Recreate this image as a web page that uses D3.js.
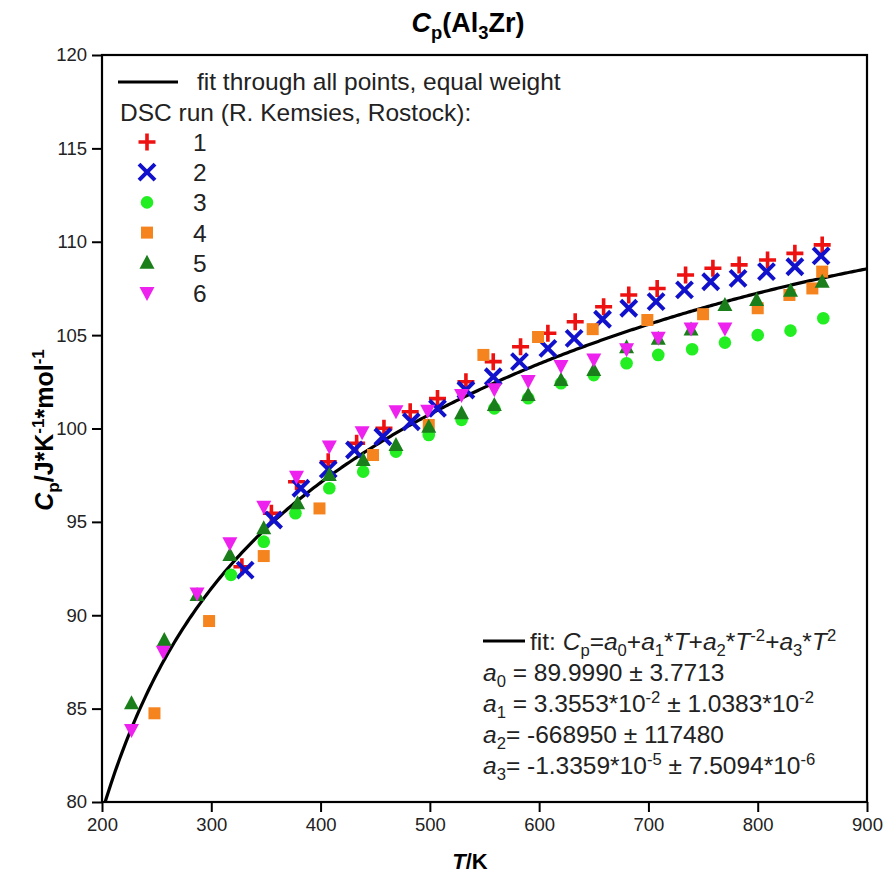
<!DOCTYPE html>
<html>
<head>
<meta charset="utf-8">
<script src="https://cdn.jsdelivr.net/npm/d3@7"></script>
<style>
  body { margin: 0; background: #fff; }
  svg { font-family: "Liberation Sans", Arial, sans-serif; }
</style>
</head>
<body>
<svg width="888" height="875"></svg>
<script>
"use strict";

// DSC runs, T in K, Cp in J/(K mol)
const run1T  = [328, 355, 378, 407, 433, 458, 482, 507, 533, 558, 583, 608, 633, 659, 682, 708, 734, 759, 783, 809, 834, 859];
const run1Cp = [92.6, 95.46, 97.15, 98.22, 99.21, 100.01, 100.9, 101.6, 102.5, 103.58, 104.38, 105.1, 105.72, 106.52, 107.15, 107.5, 108.22, 108.58, 108.76, 109.02, 109.38, 109.83];

const run2T  = [331, 357, 382, 407, 431, 457, 483, 507, 533, 558, 582, 608, 632, 658, 682, 707, 733, 757, 782, 808, 834, 858];
const run2Cp = [92.42, 95.1, 96.8, 97.81, 98.85, 99.56, 100.36, 101.08, 102.06, 102.77, 103.58, 104.29, 104.83, 105.85, 106.44, 106.79, 107.42, 107.86, 108.04, 108.4, 108.66, 109.24];

const run3T  = [318, 348, 377, 408, 439, 469, 499, 529, 559, 590, 620, 650, 680, 709, 740, 770, 800, 830, 860];
const run3Cp = [92.16, 93.94, 95.46, 96.8, 97.69, 98.76, 99.65, 100.46, 101.08, 101.62, 102.42, 102.86, 103.49, 103.94, 104.24, 104.6, 105.0, 105.24, 105.9];

const run4T  = [248, 298, 348, 399, 448, 499, 549, 599, 649, 699, 750, 800, 829, 850, 859];
const run4Cp = [84.75, 89.69, 93.17, 95.72, 98.58, 100.19, 103.94, 104.9, 105.32, 105.81, 106.12, 106.44, 107.15, 107.5, 108.4];

const run5T  = [227, 257, 287, 317, 348, 379, 408, 439, 469, 499, 529, 559, 590, 620, 650, 680, 709, 739, 770, 799, 830, 859];
const run5Cp = [85.29, 88.67, 91.08, 93.23, 94.66, 96.0, 97.51, 98.31, 99.12, 100.1, 100.81, 101.26, 101.79, 102.6, 103.13, 104.35, 104.8, 105.3, 106.61, 106.88, 107.38, 107.86];

const run6T  = [227, 256, 287, 317, 348, 378, 408, 438, 469, 498, 529, 559, 590, 620, 650, 680, 709, 739, 770];
const run6Cp = [83.86, 88.05, 91.17, 93.85, 95.81, 97.42, 99.03, 99.8, 100.92, 100.95, 101.79, 102.1, 102.55, 103.35, 103.7, 104.25, 104.86, 105.36, 105.35];

// fit coefficients printed on the chart: Cp = a0 + a1*T + a2*T^-2 + a3*T^2
const fitCoef = [89.9990, 3.3553e-2, -668950, -1.3359e-5];

const xTicks = [200, 300, 400, 500, 600, 700, 800, 900];
const yTicks = [80, 85, 90, 95, 100, 105, 110, 115, 120];

const runs = [
    {name: "1", T: run1T, Cp: run1Cp, sym: "plus",  color: "#ee1111"},
    {name: "2", T: run2T, Cp: run2Cp, sym: "cross", color: "#1111cc"},
    {name: "3", T: run3T, Cp: run3Cp, sym: "circle", color: "#22ee22"},
    {name: "4", T: run4T, Cp: run4Cp, sym: "square", color: "#f5841f"},
    {name: "5", T: run5T, Cp: run5Cp, sym: "triUp", color: "#1a7f1a"},
    {name: "6", T: run6T, Cp: run6Cp, sym: "triDown", color: "#ee22ee"}
];

const svg = d3.select("svg"),
    pLeft = 102, pRight = 867, pTop = 55, pBottom = 802;

const x = d3.scaleLinear().domain([200, 900]).range([pLeft, pRight]);
const y = d3.scaleLinear().domain([80, 120]).range([pBottom, pTop]);

// rich text helper: parts = [[text, style]], style in "", "i", "sub", "sup"
function rich(sel, parts, size) {
    let shift = 0;
    parts.forEach(function (p) {
        const txt = p[0], st = p[1] || "";
        let target = 0;
        if (st === "sub") target = size * 0.25;
        if (st === "sup") target = -size * 0.38;
        const t = sel.append("tspan")
            .attr("dy", target - shift)
            .text(txt);
        shift = target;
        if (st === "i") t.style("font-style", "italic");
        if (target !== 0) t.style("font-size", (size * 0.68) + "px");
    });
}

// title
const title = svg.append("text")
    .attr("x", 468).attr("y", 32)
    .attr("text-anchor", "middle")
    .style("font-size", "27px").style("font-weight", "bold");
rich(title, [["C", "i"], ["p", "sub"], ["(Al", ""], ["3", "sub"], ["Zr)", ""]], 27);

// minor + major ticks
const gx = svg.append("g").attr("transform", "translate(0," + pBottom + ")");
gx.call(d3.axisBottom(x).tickValues(d3.range(200, 901, 20)).tickSize(6).tickFormat(""));
gx.call(d3.axisBottom(x).tickValues(xTicks).tickSize(10).tickPadding(6).tickFormat(d3.format("d")));
gx.selectAll("path.domain").remove();
gx.selectAll("text").filter(function () { return this.textContent === ""; }).remove();
gx.selectAll("line").attr("stroke", "#000").attr("stroke-width", 2);
gx.selectAll("text").style("font-size", "18.5px").attr("fill", "#222");

const gy = svg.append("g").attr("transform", "translate(" + pLeft + ",0)");
gy.call(d3.axisLeft(y).tickValues(d3.range(80, 121, 1)).tickSize(6).tickFormat(""));
gy.call(d3.axisLeft(y).tickValues(yTicks).tickSize(10).tickPadding(5).tickFormat(d3.format("d")));
gy.selectAll("path.domain").remove();
gy.selectAll("text").filter(function () { return this.textContent === ""; }).remove();
gy.selectAll("line").attr("stroke", "#000").attr("stroke-width", 2);
gy.selectAll("text").style("font-size", "18.5px").attr("fill", "#222");

// axis titles
const xl = svg.append("text")
    .attr("x", 470).attr("y", 869)
    .attr("text-anchor", "middle")
    .style("font-size", "22px").style("font-weight", "bold");
rich(xl, [["T", "i"], ["/K", ""]], 22);

const yl = svg.append("text")
    .attr("transform", "translate(53,430) rotate(-90)")
    .attr("text-anchor", "middle")
    .style("font-size", "25px").style("font-weight", "bold");
rich(yl, [["C", "i"], ["p", "sub"], ["/J*K", ""], ["-1", "sup"], ["*mol", ""], ["-1", "sup"]], 25);

// clip
svg.append("clipPath").attr("id", "clip")
    .append("rect").attr("x", pLeft).attr("y", pTop)
    .attr("width", pRight - pLeft).attr("height", pBottom - pTop);

// fit curve
function fitCp(T) {
    return fitCoef[0] + fitCoef[1] * T + fitCoef[2] / (T * T) + fitCoef[3] * T * T;
}
const fitT = d3.range(200, 900.5, 2);
svg.append("path")
    .datum(fitT)
    .attr("clip-path", "url(#clip)")
    .attr("fill", "none")
    .attr("stroke", "#000")
    .attr("stroke-width", 3.2)
    .attr("d", d3.line().x(d => x(d)).y(d => y(fitCp(d))));

// markers
function drawSymbol(g, sym, color) {
    if (sym === "plus") {
        g.append("path").attr("d", "M-8.5,0H8.5M0,-8.5V8.5")
            .attr("stroke", color).attr("stroke-width", 3.6).attr("fill", "none");
    } else if (sym === "cross") {
        g.append("path").attr("d", "M-8,-8L8,8M-8,8L8,-8")
            .attr("stroke", color).attr("stroke-width", 4).attr("fill", "none");
    } else if (sym === "circle") {
        g.append("circle").attr("r", 6.3).attr("fill", color);
    } else if (sym === "square") {
        g.append("rect").attr("x", -6).attr("y", -6).attr("width", 12).attr("height", 12).attr("fill", color);
    } else if (sym === "triUp") {
        g.append("path").attr("d", "M0,-8L7.5,6H-7.5Z").attr("fill", color);
    } else {
        g.append("path").attr("d", "M0,8L7.5,-6H-7.5Z").attr("fill", color);
    }
}

runs.forEach(function (r) {
    const pts = r.T.map((t, i) => [t, r.Cp[i]]);
    const g = svg.append("g").attr("class", "run" + r.name);
    g.selectAll("g").data(pts).enter().append("g")
        .attr("transform", d => "translate(" + x(d[0]) + "," + y(d[1]) + ")")
        .each(function () { drawSymbol(d3.select(this), r.sym, r.color); });
});

// frame
svg.append("rect")
    .attr("x", pLeft).attr("y", pTop)
    .attr("width", pRight - pLeft).attr("height", pBottom - pTop)
    .attr("fill", "none").attr("stroke", "#000").attr("stroke-width", 2.2);

// legend top-left
const legSize = 24.5;
const leg = svg.append("g").style("font-size", legSize + "px").attr("fill", "#222");
leg.append("line").attr("x1", 118).attr("x2", 178).attr("y1", 82).attr("y2", 82)
    .attr("stroke", "#000").attr("stroke-width", 3.2);
leg.append("text").attr("x", 197).attr("y", 90)
    .text("fit through all points, equal weight");
leg.append("text").attr("x", 120).attr("y", 121)
    .text("DSC run (R. Kemsies, Rostock):");
runs.forEach(function (r, i) {
    const yy = 142 + i * 30.2;
    drawSymbol(leg.append("g").attr("transform", "translate(147," + yy + ")"), r.sym, r.color);
    leg.append("text").attr("x", 193).attr("y", yy + 9).text(r.name);
});

// fit box bottom-right
const fb = svg.append("g").style("font-size", legSize + "px").attr("fill", "#222");
fb.append("line").attr("x1", 483).attr("x2", 525).attr("y1", 641).attr("y2", 641)
    .attr("stroke", "#000").attr("stroke-width", 3.2);
const fitLines = [
    [530, 650, [["fit: ", ""], ["C", "i"], ["p", "sub"], ["=", ""], ["a", "i"], ["0", "sub"], ["+", ""], ["a", "i"], ["1", "sub"], ["*", ""], ["T", "i"], ["+", ""], ["a", "i"], ["2", "sub"], ["*", ""], ["T", "i"], ["-2", "sup"], ["+", ""], ["a", "i"], ["3", "sub"], ["*", ""], ["T", "i"], ["2", "sup"]]],
    [483, 681, [["a", "i"], ["0", "sub"], [" = 89.9990 \u00b1 3.7713", ""]]],
    [483, 712, [["a", "i"], ["1", "sub"], [" = 3.3553*10", ""], ["-2", "sup"], [" \u00b1 1.0383*10", ""], ["-2", "sup"]]],
    [483, 743, [["a", "i"], ["2", "sub"], ["= -668950 \u00b1 117480", ""]]],
    [483, 774, [["a", "i"], ["3", "sub"], ["= -1.3359*10", ""], ["-5", "sup"], [" \u00b1 7.5094*10", ""], ["-6", "sup"]]]
];
fitLines.forEach(function (l) {
    const t = fb.append("text").attr("x", l[0]).attr("y", l[1]);
    rich(t, l[2], legSize);
});
</script>
</body>
</html>
